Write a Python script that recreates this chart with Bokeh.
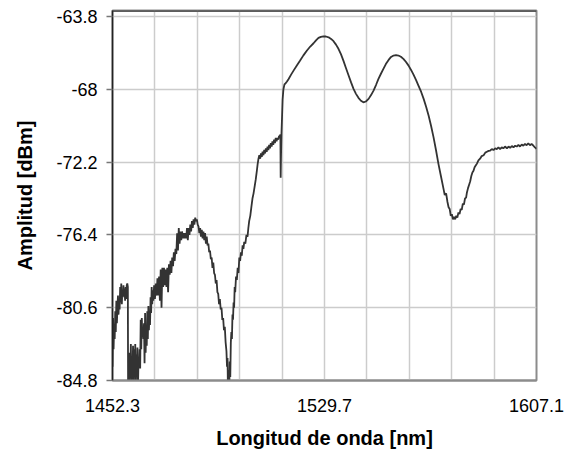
from bokeh.plotting import figure
from bokeh.models import FixedTicker, Span, Range1d, ColumnDataSource
from bokeh.embed import file_html
from bokeh.resources import INLINE

# ---------------- data ----------------
x_ticks = [1452.3, 1529.7, 1607.1]
x_tick_labels = ["1452.3", "1529.7", "1607.1"]
x_grid = [1452.3, 1467.78, 1483.26, 1498.74, 1514.22, 1529.7,
          1545.18, 1560.66, 1576.14, 1591.62, 1607.1]
y_ticks = [-63.8, -68.0, -72.2, -76.4, -80.6, -84.8]
y_tick_labels = ["-63.8", "-68", "-72.2", "-76.4", "-80.6", "-84.8"]

x_label = "Longitud de onda [nm]"
y_label = "Amplitud [dBm]"

wavelength_nm = [
    1452.3, 1452.5, 1452.7, 1452.9, 1453.1, 1453.3, 1453.5, 1453.7, 1453.9, 1454.1,
    1454.3, 1454.5, 1454.7, 1454.9, 1455.1, 1455.3, 1455.5, 1455.7, 1455.9, 1456.1,
    1456.3, 1456.5, 1456.7, 1456.9, 1457.1, 1457.3, 1457.5, 1457.7, 1457.9,
    1458.0, 1458.2, 1458.4, 1458.6, 1458.8, 1459.0, 1459.2, 1459.4, 1459.6, 1459.8,
    1460.0, 1460.2, 1460.4, 1460.6, 1460.8, 1461.0, 1461.2, 1461.4, 1461.6, 1461.8,
    1462.0, 1462.2, 1462.4,
    1462.6, 1462.8, 1463.0, 1463.2, 1463.4, 1463.6, 1463.8, 1464.0, 1464.2, 1464.4,
    1464.6, 1464.8, 1465.0, 1465.2, 1465.4, 1465.6, 1465.8, 1466.0, 1466.2, 1466.4,
    1466.6, 1466.8, 1467.0, 1467.2, 1467.5, 1467.8, 1468.1, 1468.4, 1468.7, 1469.0,
    1469.3, 1469.6, 1469.9, 1470.2, 1470.5, 1470.8, 1471.1, 1471.4, 1471.7, 1472.0,
    1472.3, 1472.6, 1472.9, 1473.2, 1473.5, 1473.8, 1474.1, 1474.4, 1474.7, 1475.0,
    1475.3, 1475.6,
    1475.9, 1476.2, 1476.5, 1476.8, 1477.1, 1477.4, 1477.7, 1478.0, 1478.3, 1478.6,
    1478.9, 1479.2, 1479.5, 1479.8, 1480.1, 1480.4, 1480.7, 1481.0, 1481.3, 1481.6,
    1481.9, 1482.2, 1482.5, 1482.8, 1483.1, 1483.4,
    1483.7, 1484.0, 1484.3, 1484.6, 1484.9, 1485.2, 1485.5, 1485.8, 1486.1, 1486.4,
    1486.7, 1487.0, 1487.3, 1487.6, 1487.9, 1488.2, 1488.5, 1488.8, 1489.1, 1489.4,
    1489.7, 1490.0, 1490.3, 1490.6, 1490.9, 1491.2, 1491.5, 1491.8, 1492.1, 1492.4,
    1492.7, 1493.0, 1493.3, 1493.6, 1493.9, 1494.1, 1494.3, 1494.5, 1494.7, 1494.9,
    1495.1, 1495.3, 1495.5, 1495.7, 1495.9, 1496.1, 1496.3, 1496.5, 1496.7, 1496.9,
    1497.1, 1497.4, 1497.7, 1498.0, 1498.3, 1498.6, 1498.9, 1499.2, 1499.5, 1499.8,
    1500.1, 1500.4, 1500.8, 1501.2, 1501.6, 1501.9,
    1502.2, 1502.6, 1503.0, 1503.4, 1503.8, 1504.2, 1504.6, 1505.0, 1505.3, 1505.6,
    1505.9, 1506.2, 1506.5, 1506.8, 1507.1, 1507.4, 1507.7, 1508.0, 1508.3, 1508.6,
    1508.9, 1509.2, 1509.5, 1509.8, 1510.1, 1510.4, 1510.7, 1511.0, 1511.3, 1511.6,
    1511.9, 1512.2, 1512.5, 1512.8, 1513.1, 1513.4, 1513.6,
    1513.7, 1513.8, 1514.0, 1514.2, 1514.4, 1514.7, 1515.1,
    1515.4, 1516.0, 1516.6, 1517.5, 1518.4, 1519.6, 1520.8, 1522.0, 1523.3, 1524.5,
    1525.7, 1526.6, 1527.5, 1528.4, 1529.3, 1530.2, 1531.2, 1532.1, 1533.0, 1533.9,
    1534.8, 1535.7, 1536.6, 1537.5, 1538.5, 1539.4, 1540.3, 1541.2, 1542.1, 1543.0,
    1543.9, 1544.8, 1545.8, 1546.7, 1547.6, 1548.5, 1549.4, 1550.3, 1551.2, 1552.1,
    1553.1, 1554.0, 1554.9, 1555.8, 1556.7, 1557.6, 1558.5, 1559.4, 1560.4, 1561.3,
    1562.2, 1563.1, 1564.0, 1565.0, 1565.9, 1566.8, 1567.7, 1568.6, 1569.5, 1570.4,
    1571.3, 1572.2, 1573.1,
    1573.6, 1574.1, 1574.6, 1575.0, 1575.4, 1575.8, 1576.2, 1576.6, 1577.0, 1577.4,
    1577.8, 1578.2, 1578.6, 1579.0, 1579.4, 1579.8, 1580.2, 1580.6, 1581.0, 1581.4,
    1581.7, 1582.1, 1582.5, 1582.9, 1583.3, 1583.7, 1584.1, 1584.5, 1584.9, 1585.3,
    1585.9, 1586.5, 1587.1, 1587.8, 1588.4, 1589.0, 1589.6, 1590.2, 1590.8, 1591.4,
    1592.0, 1592.6, 1593.2, 1593.8, 1594.4, 1595.0, 1595.6, 1596.3, 1596.9, 1597.5,
    1598.1, 1598.7, 1599.3, 1599.9, 1600.5, 1601.1, 1601.7, 1602.3, 1602.9, 1603.5,
    1604.1, 1604.7, 1605.3, 1605.9, 1606.5, 1607.1,
]

amplitude_dbm = [
    -84.0, -81.2, -83.0, -81.6, -82.4, -80.8, -82.0, -80.2, -81.5, -80.6,
    -79.9, -81.0, -80.1, -80.7, -79.4, -80.3, -79.2, -80.4, -79.6, -80.0,
    -79.3, -79.9, -79.5, -80.2, -79.4, -80.1, -79.3, -79.2, -79.4,
    -85.5, -83.5, -85.5, -83.2, -84.5, -82.7, -85.5, -83.5, -84.2, -82.8,
    -85.5, -83.0, -84.6, -82.7, -85.5, -83.3, -84.3, -82.9, -85.2, -83.6,
    -84.0, -83.0, -84.1,
    -81.3, -83.0, -81.2, -82.3, -81.7, -82.4, -81.5, -83.8, -80.9, -83.2,
    -81.7, -82.8, -80.8, -82.4, -80.5, -81.9, -80.8, -81.6, -80.0, -80.9,
    -79.4, -80.4, -79.6, -80.2, -79.3, -80.1, -79.2, -79.9, -78.9, -79.9,
    -78.8, -80.2, -78.4, -80.6, -78.3, -79.4, -78.3, -79.3, -78.4, -79.4,
    -78.3, -79.7, -78.1, -78.7, -77.9, -78.6, -77.7, -78.2, -77.4, -77.9,
    -77.2, -77.5,
    -76.3, -77.3, -76.0, -76.9, -76.2, -76.7, -76.2, -76.6, -76.3, -76.6,
    -76.3, -76.6, -76.0, -76.7, -76.0, -76.4, -75.8, -76.2, -75.6, -76.0,
    -75.5, -75.8, -75.4, -75.6, -75.5, -75.8,
    -75.9, -76.3, -76.0, -76.5, -76.1, -76.6, -76.2, -76.7, -76.3, -76.9,
    -76.5, -77.0, -76.9, -77.4, -77.3, -77.8, -77.7, -78.3, -78.0, -78.6,
    -78.7, -79.2, -79.0, -79.7, -79.8, -80.4, -80.1, -80.7, -80.6, -81.3,
    -81.2, -81.9, -81.7, -82.6, -83.1, -84.0, -83.5, -86.0, -84.2, -85.5,
    -83.7, -84.6, -82.6, -82.0, -82.4, -81.0, -81.3, -80.3, -80.6, -79.4,
    -79.7, -78.8, -79.0, -78.3, -78.6, -77.7, -77.9, -77.4, -77.6, -77.0,
    -77.2, -76.8, -76.9, -76.4, -76.5, -76.0,
    -75.6, -75.3, -74.8, -74.3, -74.0, -73.6, -73.2, -72.7, -72.3, -72.0,
    -71.8, -72.0, -71.7, -71.9, -71.6, -71.8, -71.5, -71.7, -71.4, -71.6,
    -71.3, -71.5, -71.2, -71.4, -71.1, -71.3, -71.0, -71.2, -70.9, -71.1,
    -70.8, -71.0, -70.8, -70.9, -70.7, -70.7, -70.6,
    -73.1, -72.0, -70.5, -69.6, -68.6, -68.0, -67.7,
    -67.67, -67.55, -67.4, -67.15, -66.92, -66.62, -66.34, -66.04, -65.76, -65.53,
    -65.34, -65.17, -65.03, -64.97, -64.94, -64.95, -65.0, -65.09, -65.22, -65.42,
    -65.66, -65.97, -66.34, -66.75, -67.2, -67.6, -67.97, -68.26, -68.49, -68.66,
    -68.75, -68.7, -68.55, -68.33, -68.07, -67.75, -67.4, -67.1, -66.82, -66.54,
    -66.3, -66.13, -66.05, -66.03, -66.05, -66.12, -66.24, -66.41, -66.63, -66.88,
    -67.15, -67.45, -67.78, -68.15, -68.55, -69.0, -69.51, -70.1, -70.76, -71.5,
    -72.3, -73.0, -73.7,
    -74.1, -74.0, -74.5, -74.8, -74.9, -75.3, -75.2, -75.5, -75.35, -75.5,
    -75.3, -75.4, -75.1, -75.2, -74.9, -74.95, -74.6, -74.65, -74.3, -74.25,
    -73.95, -73.7, -73.5, -73.3, -73.0, -72.8, -72.7, -72.5, -72.4, -72.3,
    -72.1, -72.0, -71.85, -71.8, -71.65, -71.6, -71.55, -71.53, -71.45, -71.5,
    -71.4, -71.45, -71.35, -71.45, -71.35, -71.4, -71.3, -71.4, -71.3, -71.38,
    -71.27, -71.35, -71.25, -71.3, -71.2, -71.3, -71.18, -71.25, -71.15, -71.22,
    -71.12, -71.22, -71.15, -71.24, -71.35, -71.43,
]

# ---------------- figure ----------------
FONT = "Liberation Sans"
y_top = -63.45

p = figure(width=569, height=451,
           x_range=Range1d(x_ticks[0], x_ticks[-1]),
           y_range=Range1d(y_ticks[-1], y_top),
           output_backend="svg", toolbar_location=None,
           min_border_left=112, min_border_right=33,
           min_border_top=10, min_border_bottom=71)

p.background_fill_color = "white"
p.border_fill_color = "white"
p.outline_line_color = "#8c8c8c"
p.outline_line_width = 2

# grid
p.xgrid.ticker = FixedTicker(ticks=x_grid)
p.ygrid.ticker = FixedTicker(ticks=y_ticks)
for g in (p.xgrid, p.ygrid):
    g.grid_line_color = "#cccccc"
    g.grid_line_width = 1.5

# x axis
xa = p.xaxis[0]
xa.ticker = FixedTicker(ticks=x_ticks)
xa.major_label_overrides = dict(zip(x_ticks, x_tick_labels))
xa.major_tick_out = 0
xa.major_tick_in = 0
xa.minor_tick_line_color = None
xa.axis_line_color = "#8c8c8c"
xa.axis_line_width = 2
xa.major_label_standoff = 18
xa.axis_label = x_label
xa.axis_label_standoff = 12

# y axis
ya = p.yaxis[0]
ya.ticker = FixedTicker(ticks=y_ticks)
ya.major_label_overrides = dict(zip(y_ticks, y_tick_labels))
ya.major_tick_out = 6
ya.major_tick_in = 0
ya.major_tick_line_color = "#777777"
ya.major_tick_line_width = 1.5
ya.minor_tick_line_color = None
ya.axis_line_color = "#222222"
ya.axis_line_width = 1.5
ya.major_label_standoff = 9
ya.axis_label = y_label
ya.axis_label_standoff = 17

for ax in (xa, ya):
    ax.major_label_text_font = FONT
    ax.major_label_text_font_size = "18px"
    ax.major_label_text_color = "black"
    ax.axis_label_text_font = FONT
    ax.axis_label_text_font_size = "20px"
    ax.axis_label_text_font_style = "bold"
    ax.axis_label_text_color = "black"

# dark top edge of the plot frame
p.add_layout(Span(location=y_top, dimension="width",
                  line_color="#3a3a3a", line_width=2.5))

src = ColumnDataSource(data=dict(x=wavelength_nm, y=amplitude_dbm))
p.line("x", "y", source=src, line_color="#333333", line_width=1.8)

open("out.html", "w").write(file_html(p, INLINE))
